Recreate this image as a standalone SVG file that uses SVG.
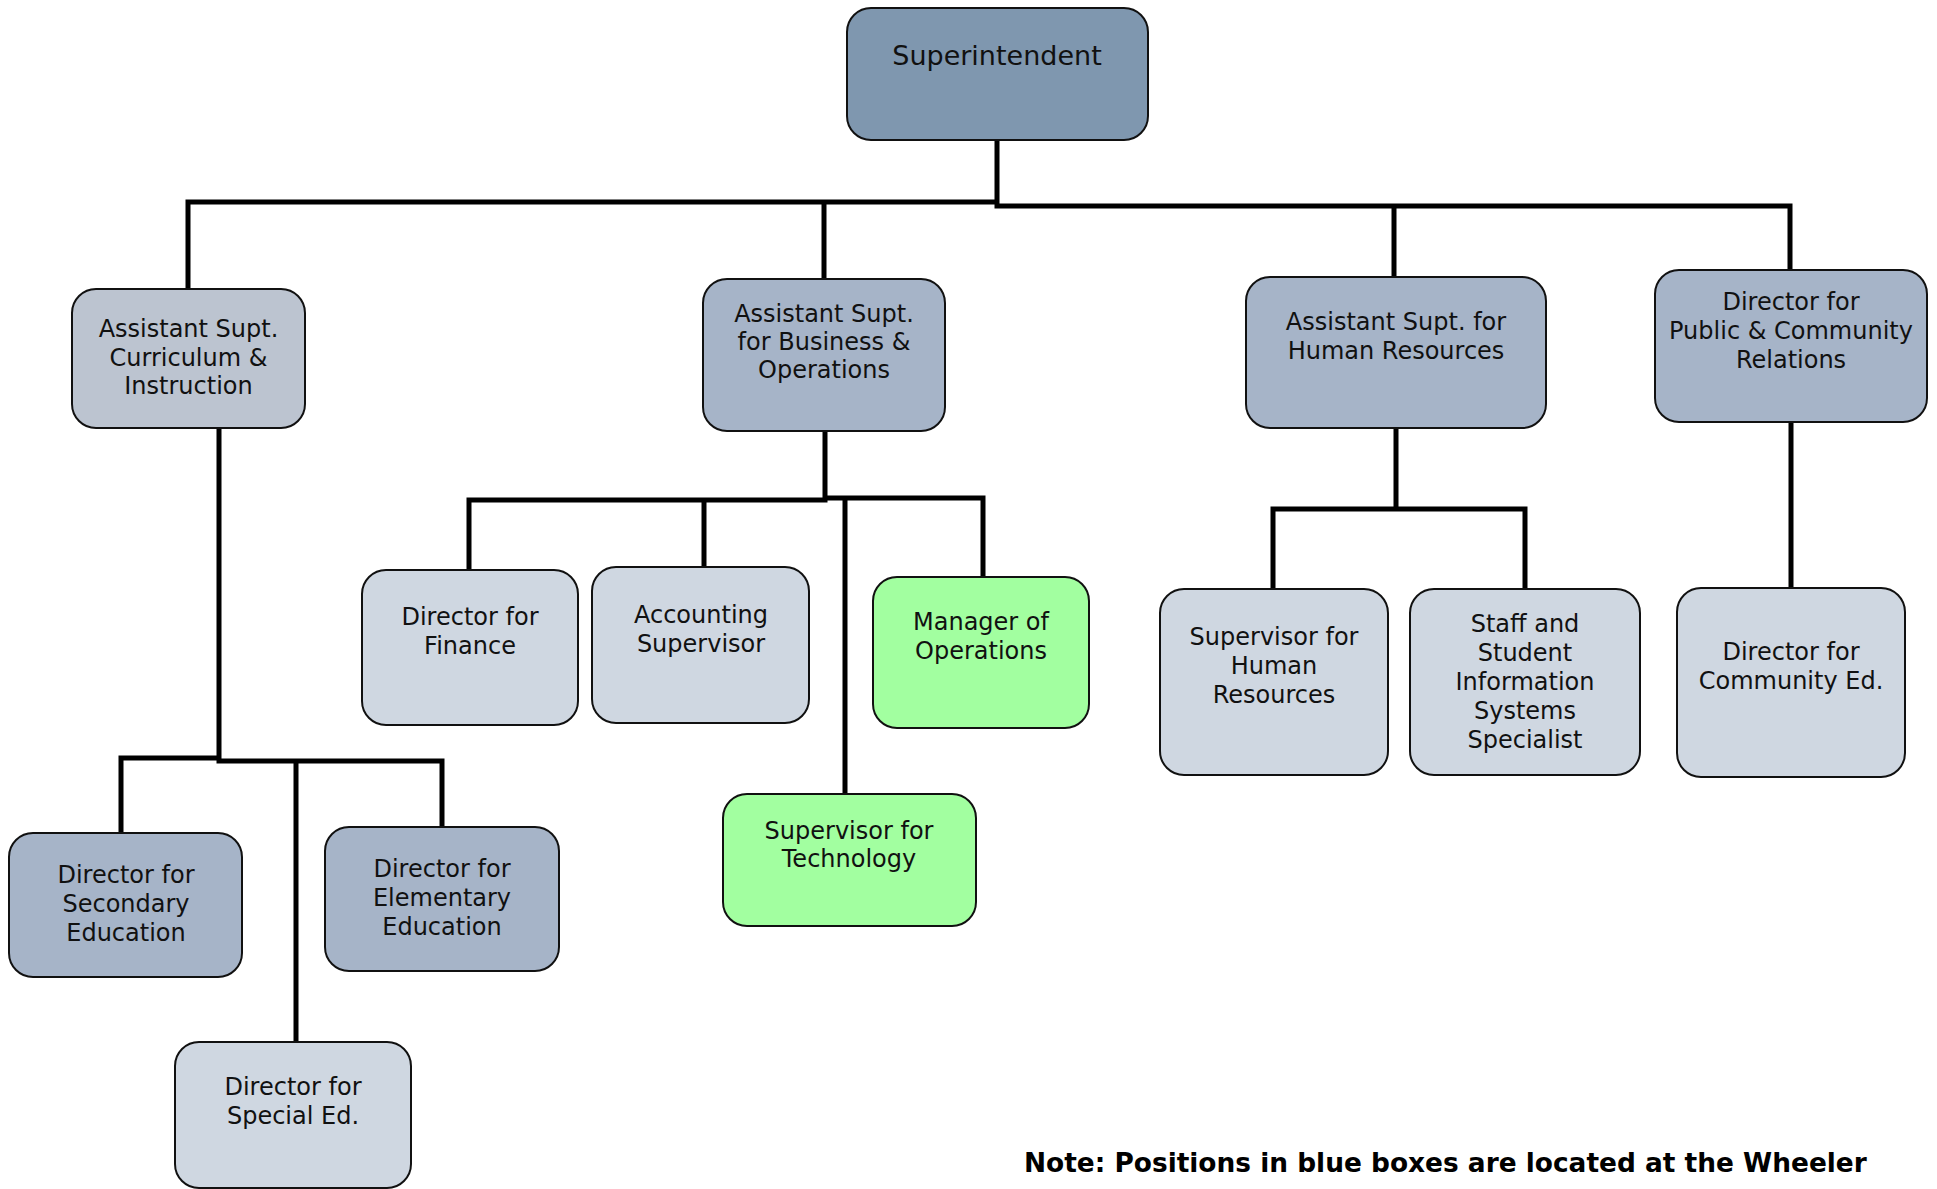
<svg xmlns="http://www.w3.org/2000/svg" width="1937" height="1189" viewBox="0 0 1937 1189">
<style>
.box{stroke:#111;stroke-width:2}
.dk{fill:#7f97af}
.md{fill:#a6b4c8}
.gy{fill:#bcc4d0}
.lt{fill:#cfd7e1}
.gr{fill:#a2ffa0}
.t{font-family:"DejaVu Sans",Verdana,sans-serif;font-size:24px;fill:#111;text-anchor:middle}
.c{fill:none;stroke:#000;stroke-width:5;stroke-linecap:square}
.note{font-family:"DejaVu Sans",Verdana,sans-serif;font-size:26.4px;font-weight:bold;fill:#000}
</style>
<rect width="1937" height="1189" fill="#fff"/>
<g id="connectors">
<path class="c" d="M997 140V206M188 202H997M997 206H1790M188 202V289M824 202V279M1394 206V277M1790 206V270"/>
<path class="c" d="M219 428V759M121 758H219M219 761H442M121 758V833M296 761V1042M442 761V827"/>
<path class="c" d="M825 431V500M469 500H825M825 498H983M469 500V570M704 500V567M983 498V577M845 498V794"/>
<path class="c" d="M1396 428V509M1273 509H1525M1273 509V589M1525 509V589"/>
<path class="c" d="M1791 422V588"/>
</g>
<g id="superintendent"><rect class="box dk" x="847" y="8" width="301" height="132" rx="24"/><text class="t" x="997" y="65" style="font-size:27px">Superintendent</text></g>
<g id="asst-curriculum"><rect class="box gy" x="72" y="289" width="233" height="139" rx="24"/><text class="t" x="188.5" y="337">Assistant Supt.<tspan x="188.5" dy="28.5">Curriculum &amp;</tspan><tspan x="188.5" dy="28.5">Instruction</tspan></text></g>
<g id="asst-business"><rect class="box md" x="703" y="279" width="242" height="152" rx="24"/><text class="t" x="824" y="322">Assistant Supt.<tspan x="824" dy="28">for Business &amp;</tspan><tspan x="824" dy="28">Operations</tspan></text></g>
<g id="asst-hr"><rect class="box md" x="1246" y="277" width="300" height="151" rx="24"/><text class="t" x="1396" y="330">Assistant Supt. for<tspan x="1396" dy="28.5">Human Resources</tspan></text></g>
<g id="dir-public"><rect class="box md" x="1655" y="270" width="272" height="152" rx="24"/><text class="t" x="1791" y="310">Director for<tspan x="1791" dy="29">Public &amp; Community</tspan><tspan x="1791" dy="28.5">Relations</tspan></text></g>
<g id="dir-finance"><rect class="box lt" x="362" y="570" width="216" height="155" rx="24"/><text class="t" x="470" y="625">Director for<tspan x="470" dy="29">Finance</tspan></text></g>
<g id="accounting"><rect class="box lt" x="592" y="567" width="217" height="156" rx="24"/><text class="t" x="701" y="623">Accounting<tspan x="701" dy="29">Supervisor</tspan></text></g>
<g id="mgr-operations"><rect class="box gr" x="873" y="577" width="216" height="151" rx="24"/><text class="t" x="981" y="630">Manager of<tspan x="981" dy="28.5">Operations</tspan></text></g>
<g id="sup-technology"><rect class="box gr" x="723" y="794" width="253" height="132" rx="24"/><text class="t" x="849" y="838.5">Supervisor for<tspan x="849" dy="28.5">Technology</tspan></text></g>
<g id="dir-secondary"><rect class="box md" x="9" y="833" width="233" height="144" rx="24"/><text class="t" x="126" y="883">Director for<tspan x="126" dy="29">Secondary</tspan><tspan x="126" dy="29">Education</tspan></text></g>
<g id="dir-elementary"><rect class="box md" x="325" y="827" width="234" height="144" rx="24"/><text class="t" x="442" y="877">Director for<tspan x="442" dy="29">Elementary</tspan><tspan x="442" dy="29">Education</tspan></text></g>
<g id="dir-special"><rect class="box lt" x="175" y="1042" width="236" height="146" rx="24"/><text class="t" x="293" y="1095">Director for<tspan x="293" dy="28.5">Special Ed.</tspan></text></g>
<g id="sup-hr"><rect class="box lt" x="1160" y="589" width="228" height="186" rx="24"/><text class="t" x="1274" y="645">Supervisor for<tspan x="1274" dy="29">Human</tspan><tspan x="1274" dy="29">Resources</tspan></text></g>
<g id="sis-specialist"><rect class="box lt" x="1410" y="589" width="230" height="186" rx="24"/><text class="t" x="1525" y="632">Staff and<tspan x="1525" dy="29">Student</tspan><tspan x="1525" dy="29">Information</tspan><tspan x="1525" dy="29">Systems</tspan><tspan x="1525" dy="29">Specialist</tspan></text></g>
<g id="dir-community"><rect class="box lt" x="1677" y="588" width="228" height="189" rx="24"/><text class="t" x="1791" y="660">Director for<tspan x="1791" dy="28.5">Community Ed.</tspan></text></g>
<text class="note" x="1024" y="1171.5">Note: Positions in blue boxes are located at the Wheeler</text>
</svg>
